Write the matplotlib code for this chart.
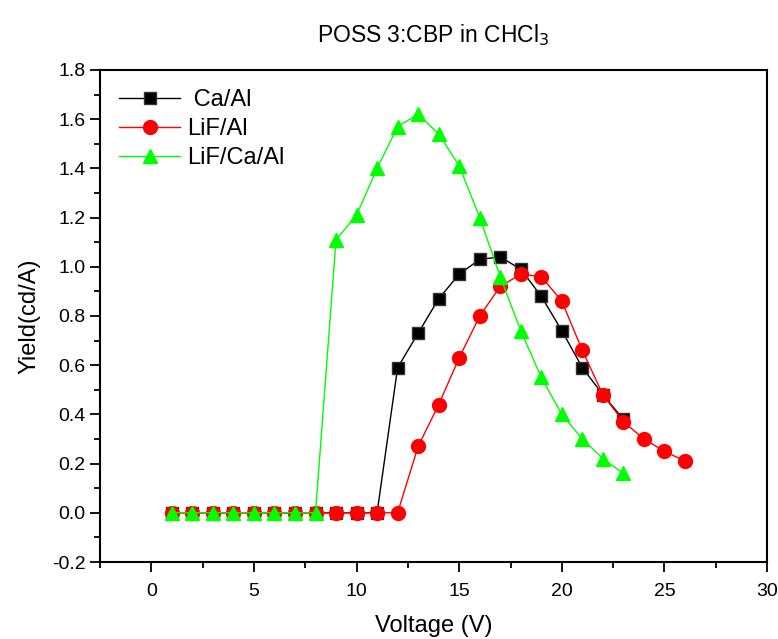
import numpy as np
import matplotlib.pyplot as plt
from matplotlib.ticker import MultipleLocator

plt.rcParams['font.family'] = ['Liberation Sans', 'DejaVu Sans']

# Ca/Al
v_caal = [1, 2, 3, 4, 5, 6, 7, 8, 9, 10, 11, 12, 13, 14, 15, 16, 17, 18, 19, 20, 21, 22, 23]
y_caal = [0, 0, 0, 0, 0, 0, 0, 0, 0, 0, 0, 0.59, 0.73, 0.87, 0.97, 1.03, 1.04, 0.99, 0.88, 0.74, 0.59, 0.48, 0.38]
# LiF/Al
v_lifal = [1, 2, 3, 4, 5, 6, 7, 8, 9, 10, 11, 12, 13, 14, 15, 16, 17, 18, 19, 20, 21, 22, 23, 24, 25, 26]
y_lifal = [0, 0, 0, 0, 0, 0, 0, 0, 0, 0, 0, 0, 0.27, 0.44, 0.63, 0.80, 0.92, 0.97, 0.96, 0.86, 0.66, 0.48, 0.37, 0.30, 0.25, 0.21]
# LiF/Ca/Al
v_lifcaal = [1, 2, 3, 4, 5, 6, 7, 8, 9, 10, 11, 12, 13, 14, 15, 16, 17, 18, 19, 20, 21, 22, 23]
y_lifcaal = [0, 0, 0, 0, 0, 0, 0, 0, 1.11, 1.21, 1.40, 1.57, 1.62, 1.54, 1.41, 1.20, 0.96, 0.74, 0.55, 0.40, 0.30, 0.22, 0.16]

fig = plt.figure(figsize=(7.78, 6.39), dpi=100)
ax = fig.add_axes([0.1285, 0.1205, 0.8575, 0.77])

ax.plot(v_caal, y_caal, '-s', c='black', mec='#333333', lw=1, ms=8, label=' Ca/Al')
ax.plot(v_lifal, y_lifal, '-o', c='red', mec='red', lw=1, ms=10, label='LiF/Al')
ax.plot(v_lifcaal, y_lifcaal, '-^', c='#00ff00', mec='#00ff00', lw=1, ms=10, label='LiF/Ca/Al')

ax.set_xlim(-2.5, 30)
ax.set_ylim(-0.2, 1.8)
ax.xaxis.set_major_locator(MultipleLocator(5))
ax.xaxis.set_minor_locator(MultipleLocator(2.5))
ax.yaxis.set_major_locator(MultipleLocator(0.2))
ax.yaxis.set_minor_locator(MultipleLocator(0.1))
ax.yaxis.set_major_formatter(plt.FuncFormatter(lambda v, p: f'{v:.1f}'))
ax.tick_params(which='major', direction='out', length=7, width=1.3, labelsize=14)
ax.tick_params(axis='x', which='major', pad=8)
ax.tick_params(which='minor', direction='out', length=4, width=1.3)
ax.tick_params(top=False, right=False)
for s in ax.spines.values():
    s.set_linewidth(1.5)

ax.set_xlabel('Voltage (V)', fontsize=17, labelpad=11)
ax.set_ylabel('Yield(cd/A)', fontsize=17, labelpad=8)
ax.set_title(r'POSS 3:CBP in CHCl$_3$', fontsize=16.5, pad=20)

ax.legend(loc='upper left', frameon=False, fontsize=17, handlelength=2.6,
          handletextpad=0.3, borderaxespad=0.4, labelspacing=0.3)

plt.savefig('out.png', dpi=100)
